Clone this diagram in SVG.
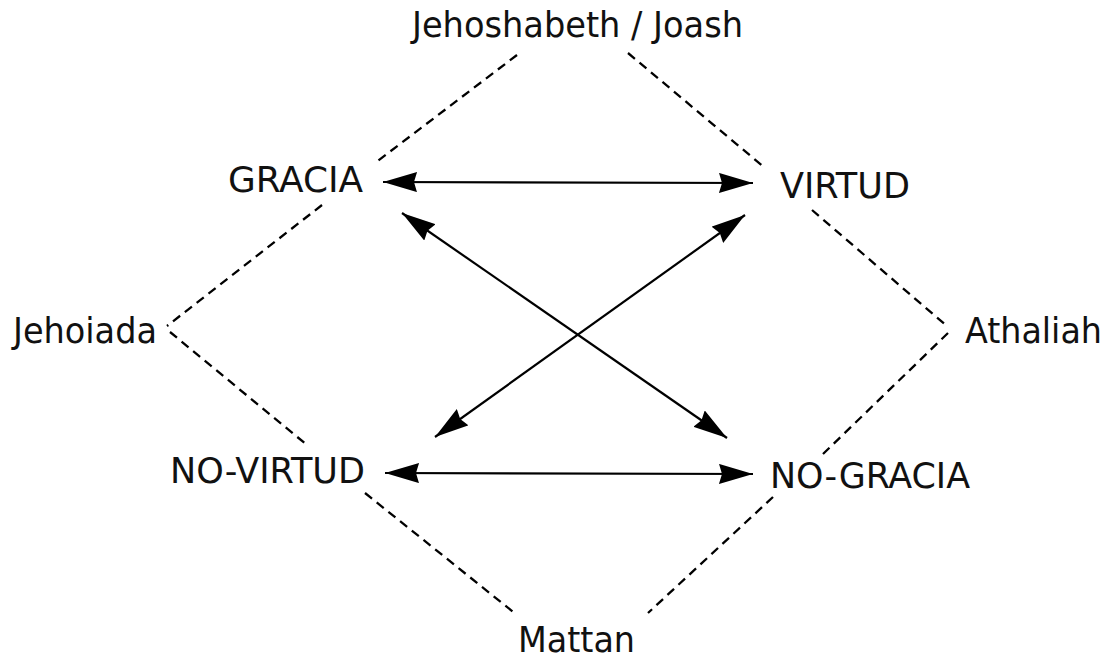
<svg xmlns="http://www.w3.org/2000/svg" width="1105" height="660" viewBox="0 0 1105 660">
<style>
.lbl{font-family:"DejaVu Sans Condensed","DejaVu Sans",sans-serif;font-size:36px;fill:#111;}
.dash{stroke:#000;stroke-width:2.3;stroke-dasharray:9 6;fill:none;}
.arr{stroke:#000;stroke-width:2.2;fill:none;marker-start:url(#ah);marker-end:url(#ah);}
</style>
<defs>
<marker id="ah" viewBox="0 0 34 20" refX="34" refY="10" markerWidth="34" markerHeight="20" markerUnits="userSpaceOnUse" orient="auto-start-reverse">
<path d="M0,0 L34,10 L0,20 L3,10 Z" fill="#000"/>
</marker>
</defs>
<rect width="1105" height="660" fill="#fff"/>
<g id="connectors">
<path class="dash" d="M517,55 L375,163"/>
<path class="dash" d="M322,205 L167,326"/>
<path class="dash" d="M170,332 L307,445"/>
<path class="dash" d="M365,493 L517,615"/>
<path class="dash" d="M628,53 L765,168"/>
<path class="dash" d="M812,210 L948,327"/>
<path class="dash" d="M948,333 L822,455"/>
<path class="dash" d="M773,497 L648,613"/>
<line class="arr" x1="383" y1="182" x2="753" y2="183"/>
<line class="arr" x1="385" y1="473" x2="753" y2="474"/>
<line class="arr" x1="402" y1="213" x2="727" y2="438"/>
<line class="arr" x1="745" y1="215" x2="435" y2="437"/>
</g>
<g id="top"><text class="lbl" x="412" y="37" textLength="331" lengthAdjust="spacingAndGlyphs">Jehoshabeth / Joash</text></g>
<g id="gracia"><text class="lbl" x="228" y="192" textLength="135" lengthAdjust="spacingAndGlyphs">GRACIA</text></g>
<g id="virtud"><text class="lbl" x="780" y="198" textLength="130" lengthAdjust="spacingAndGlyphs">VIRTUD</text></g>
<g id="left"><text class="lbl" x="13" y="343" textLength="144" lengthAdjust="spacingAndGlyphs">Jehoiada</text></g>
<g id="right"><text class="lbl" x="965" y="343" textLength="137" lengthAdjust="spacingAndGlyphs">Athaliah</text></g>
<g id="novirtud"><text class="lbl" x="170" y="483" textLength="195" lengthAdjust="spacingAndGlyphs">NO-VIRTUD</text></g>
<g id="nogracia"><text class="lbl" x="770" y="488" textLength="200" lengthAdjust="spacingAndGlyphs">NO-GRACIA</text></g>
<g id="bottom"><text class="lbl" x="518" y="652" textLength="117" lengthAdjust="spacingAndGlyphs">Mattan</text></g>
</svg>
